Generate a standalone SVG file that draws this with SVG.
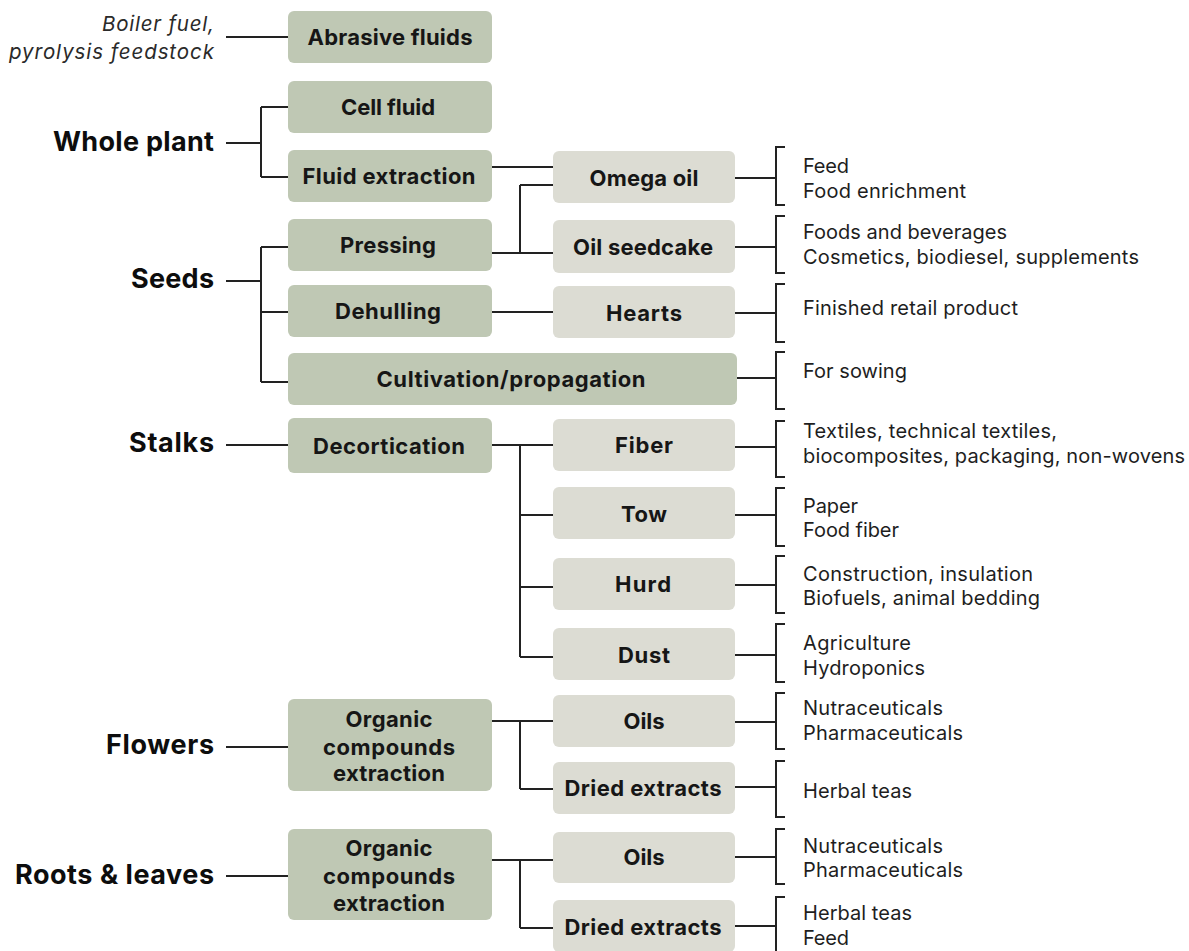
<svg xmlns="http://www.w3.org/2000/svg" width="1189" height="951" viewBox="0 0 1189 951">
<style>
.bg{fill:#ffffff}
.p1{fill:#bfc8b4}
.p2{fill:#dcdcd3}
.bt{font-family:Inter,"Liberation Sans",Arial,sans-serif;font-weight:700;font-size:22px;fill:#161616;text-anchor:middle}
.cat{font-family:Inter,"Liberation Sans",Arial,sans-serif;font-weight:700;font-size:27px;fill:#0d0d0d;text-anchor:end}
.it{font-family:Inter,"Liberation Sans",Arial,sans-serif;font-style:italic;font-size:20.5px;fill:#2a2a2a;text-anchor:end}
.rt{font-family:Inter,"Liberation Sans",Arial,sans-serif;font-size:20px;fill:#1e1e1e}
.ln{fill:none;stroke:#222;stroke-width:2}
</style>
<rect class="bg" x="0" y="0" width="1189" height="951"/>

<g id="connectors">
<path class="ln" d="M226 37H288"/>
<path class="ln" d="M226 143H261M261 107V177M261 107H288M261 177H288"/>
<path class="ln" d="M492 167H553"/>
<path class="ln" d="M492 253H553M520 185V253M520 185H553"/>
<path class="ln" d="M226 281H261M261 247V382M261 247H288M261 312H288M261 382H288"/>
<path class="ln" d="M492 312H553"/>
<path class="ln" d="M226 445H288"/>
<path class="ln" d="M492 445H553M520 445V657M520 515H553M520 587H553M520 657H553"/>
<path class="ln" d="M226 747H288"/>
<path class="ln" d="M492 721H553M520 721V789M520 789H553"/>
<path class="ln" d="M226 876H288"/>
<path class="ln" d="M492 860H553M520 860V928M520 928H553"/>
<path class="ln" d="M735 178H776M785 147H776V205H785"/>
<path class="ln" d="M735 247H776M785 216H776V273H785"/>
<path class="ln" d="M735 313H776M785 284H776V342H785"/>
<path class="ln" d="M737 378H776M785 352H776V409H785"/>
<path class="ln" d="M735 447H776M785 421H776V477H785"/>
<path class="ln" d="M735 515H776M785 488H776V546H785"/>
<path class="ln" d="M735 585H776M785 556H776V613H785"/>
<path class="ln" d="M735 655H776M785 624H776V682H785"/>
<path class="ln" d="M735 722H776M785 693H776V749H785"/>
<path class="ln" d="M735 787H776M785 761H776V817H785"/>
<path class="ln" d="M735 857H776M785 829H776V884H785"/>
<path class="ln" d="M735 926H776M785 897H776V960"/>
</g>

<g id="cat-boiler">
<text class="it" x="214" y="31" textLength="112">Boiler fuel,</text>
<text class="it" x="214" y="59" textLength="205">pyrolysis feedstock</text>
</g>
<g id="cat-whole-plant"><text class="cat" x="214" y="151" textLength="161">Whole plant</text></g>
<g id="cat-seeds"><text class="cat" x="214" y="288" textLength="83">Seeds</text></g>
<g id="cat-stalks"><text class="cat" x="214" y="452" textLength="85">Stalks</text></g>
<g id="cat-flowers"><text class="cat" x="214" y="754" textLength="108">Flowers</text></g>
<g id="cat-roots"><text class="cat" x="214" y="884" textLength="199">Roots &amp; leaves</text></g>

<g id="n-abrasive"><rect class="p1" x="288" y="11" width="204" height="52" rx="6"/><text class="bt" x="390" y="45" textLength="165">Abrasive fluids</text></g>
<g id="n-cell"><rect class="p1" x="288" y="81" width="204" height="52" rx="6"/><text class="bt" x="388" y="115" textLength="94">Cell fluid</text></g>
<g id="n-fluidext"><rect class="p1" x="288" y="150" width="204" height="52" rx="6"/><text class="bt" x="389" y="184" textLength="173">Fluid extraction</text></g>
<g id="n-pressing"><rect class="p1" x="288" y="219" width="204" height="52" rx="6"/><text class="bt" x="388" y="253" textLength="96">Pressing</text></g>
<g id="n-dehulling"><rect class="p1" x="288" y="285" width="204" height="52" rx="6"/><text class="bt" x="388" y="319" textLength="106">Dehulling</text></g>
<g id="n-cultivation"><rect class="p1" x="288" y="353" width="449" height="52" rx="6"/><text class="bt" x="511" y="387" textLength="269">Cultivation/propagation</text></g>
<g id="n-decortication"><rect class="p1" x="288" y="418" width="204" height="55" rx="6"/><text class="bt" x="389" y="454" textLength="152">Decortication</text></g>
<g id="n-organic-f"><rect class="p1" x="288" y="699" width="204" height="92" rx="6"/>
<text class="bt" x="389" y="727" textLength="87">Organic</text>
<text class="bt" x="389" y="755" textLength="132">compounds</text>
<text class="bt" x="389" y="781" textLength="112">extraction</text></g>
<g id="n-organic-r"><rect class="p1" x="288" y="829" width="204" height="91" rx="6"/>
<text class="bt" x="389" y="856" textLength="87">Organic</text>
<text class="bt" x="389" y="884" textLength="132">compounds</text>
<text class="bt" x="389" y="911" textLength="112">extraction</text></g>

<g id="n-omega"><rect class="p2" x="553" y="151" width="182" height="52" rx="6"/><text class="bt" x="644" y="186" textLength="109">Omega oil</text></g>
<g id="n-seedcake"><rect class="p2" x="553" y="220" width="182" height="53" rx="6"/><text class="bt" x="643" y="255" textLength="140">Oil seedcake</text></g>
<g id="n-hearts"><rect class="p2" x="553" y="286" width="182" height="52" rx="6"/><text class="bt" x="644" y="321" textLength="76">Hearts</text></g>
<g id="n-fiber"><rect class="p2" x="553" y="419" width="182" height="52" rx="6"/><text class="bt" x="644" y="453" textLength="58">Fiber</text></g>
<g id="n-tow"><rect class="p2" x="553" y="487" width="182" height="52" rx="6"/><text class="bt" x="644" y="522" textLength="46">Tow</text></g>
<g id="n-hurd"><rect class="p2" x="553" y="558" width="182" height="52" rx="6"/><text class="bt" x="643" y="592" textLength="56">Hurd</text></g>
<g id="n-dust"><rect class="p2" x="553" y="628" width="182" height="52" rx="6"/><text class="bt" x="644" y="663" textLength="52">Dust</text></g>
<g id="n-oils-f"><rect class="p2" x="553" y="695" width="182" height="52" rx="6"/><text class="bt" x="644" y="729" textLength="41">Oils</text></g>
<g id="n-dried-f"><rect class="p2" x="553" y="762" width="182" height="52" rx="6"/><text class="bt" x="643" y="796" textLength="157">Dried extracts</text></g>
<g id="n-oils-r"><rect class="p2" x="553" y="832" width="182" height="51" rx="6"/><text class="bt" x="644" y="865" textLength="41">Oils</text></g>
<g id="n-dried-r"><rect class="p2" x="553" y="900" width="182" height="52" rx="6"/><text class="bt" x="643" y="935" textLength="157">Dried extracts</text></g>

<g id="u-omega"><text class="rt" x="803" y="173" textLength="46">Feed</text><text class="rt" x="803" y="198" textLength="163">Food enrichment</text></g>
<g id="u-seedcake"><text class="rt" x="803" y="239" textLength="204">Foods and beverages</text><text class="rt" x="803" y="264" textLength="336">Cosmetics, biodiesel, supplements</text></g>
<g id="u-hearts"><text class="rt" x="803" y="315" textLength="215">Finished retail product</text></g>
<g id="u-cultivation"><text class="rt" x="803" y="378" textLength="104">For sowing</text></g>
<g id="u-fiber"><text class="rt" x="803" y="438" textLength="254">Textiles, technical textiles,</text><text class="rt" x="803" y="463" textLength="382">biocomposites, packaging, non-wovens</text></g>
<g id="u-tow"><text class="rt" x="803" y="513" textLength="55">Paper</text><text class="rt" x="803" y="537" textLength="96">Food fiber</text></g>
<g id="u-hurd"><text class="rt" x="803" y="581" textLength="230">Construction, insulation</text><text class="rt" x="803" y="605" textLength="237">Biofuels, animal bedding</text></g>
<g id="u-dust"><text class="rt" x="803" y="650" textLength="108">Agriculture</text><text class="rt" x="803" y="675" textLength="122">Hydroponics</text></g>
<g id="u-oils-f"><text class="rt" x="803" y="715" textLength="140">Nutraceuticals</text><text class="rt" x="803" y="740" textLength="160">Pharmaceuticals</text></g>
<g id="u-dried-f"><text class="rt" x="803" y="798" textLength="109">Herbal teas</text></g>
<g id="u-oils-r"><text class="rt" x="803" y="853" textLength="140">Nutraceuticals</text><text class="rt" x="803" y="877" textLength="160">Pharmaceuticals</text></g>
<g id="u-dried-r"><text class="rt" x="803" y="920" textLength="109">Herbal teas</text><text class="rt" x="803" y="945" textLength="46">Feed</text></g>
</svg>
